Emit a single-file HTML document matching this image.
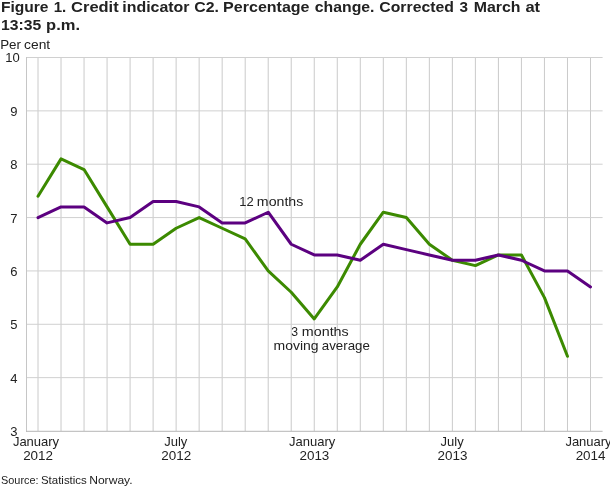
<!DOCTYPE html>
<html><head><meta charset="utf-8"><style>
html,body{margin:0;padding:0;background:#fff;}
body{width:610px;height:488px;overflow:hidden;font-family:"Liberation Sans",sans-serif;}
svg{display:block;will-change:transform;opacity:0.999;}
text{font-family:"Liberation Sans",sans-serif;fill:#222;}
.t{font-weight:bold;font-size:15.5px;fill:#222;}
.s{font-size:13px;}
.src{font-size:11px;}
</style></head><body>
<svg width="610" height="488" viewBox="0 0 610 488">
<rect width="610" height="488" fill="#fff"/>
<text class="t" x="0.96" y="11.5" textLength="47.57" lengthAdjust="spacingAndGlyphs">Figure</text><text class="t" x="53.65" y="11.5" textLength="12.59" lengthAdjust="spacingAndGlyphs">1.</text><text class="t" x="71.12" y="11.5" textLength="47.58" lengthAdjust="spacingAndGlyphs">Credit</text><text class="t" x="122.29" y="11.5" textLength="67.25" lengthAdjust="spacingAndGlyphs">indicator</text><text class="t" x="194.35" y="11.5" textLength="24.64" lengthAdjust="spacingAndGlyphs">C2.</text><text class="t" x="223.13" y="11.5" textLength="86.42" lengthAdjust="spacingAndGlyphs">Percentage</text><text class="t" x="314.78" y="11.5" textLength="59.70" lengthAdjust="spacingAndGlyphs">change.</text><text class="t" x="379.35" y="11.5" textLength="74.49" lengthAdjust="spacingAndGlyphs">Corrected</text><text class="t" x="459.55" y="11.5" textLength="8.50" lengthAdjust="spacingAndGlyphs">3</text><text class="t" x="473.74" y="11.5" textLength="46.75" lengthAdjust="spacingAndGlyphs">March</text><text class="t" x="525.42" y="11.5" textLength="14.69" lengthAdjust="spacingAndGlyphs">at</text>
<text class="t" x="1.01" y="29.5" textLength="40.23" lengthAdjust="spacingAndGlyphs">13:35</text><text class="t" x="46.11" y="29.5" textLength="33.92" lengthAdjust="spacingAndGlyphs">p.m.</text>
<text class="s" x="0.20" y="48.7" textLength="20.82" lengthAdjust="spacingAndGlyphs">Per</text><text class="s" x="24.11" y="48.7" textLength="26.09" lengthAdjust="spacingAndGlyphs">cent</text>
<g stroke="#cacaca" stroke-width="1" fill="none"><line x1="38.01" x2="38.01" y1="57.5" y2="431.0"/><line x1="61.03" x2="61.03" y1="57.5" y2="431.0"/><line x1="84.05" x2="84.05" y1="57.5" y2="431.0"/><line x1="107.07" x2="107.07" y1="57.5" y2="431.0"/><line x1="130.09" x2="130.09" y1="57.5" y2="431.0"/><line x1="153.11" x2="153.11" y1="57.5" y2="431.0"/><line x1="176.13" x2="176.13" y1="57.5" y2="431.0"/><line x1="199.15" x2="199.15" y1="57.5" y2="431.0"/><line x1="222.17" x2="222.17" y1="57.5" y2="431.0"/><line x1="245.19" x2="245.19" y1="57.5" y2="431.0"/><line x1="268.21" x2="268.21" y1="57.5" y2="431.0"/><line x1="291.23" x2="291.23" y1="57.5" y2="431.0"/><line x1="314.25" x2="314.25" y1="57.5" y2="431.0"/><line x1="337.27" x2="337.27" y1="57.5" y2="431.0"/><line x1="360.29" x2="360.29" y1="57.5" y2="431.0"/><line x1="383.31" x2="383.31" y1="57.5" y2="431.0"/><line x1="406.33" x2="406.33" y1="57.5" y2="431.0"/><line x1="429.35" x2="429.35" y1="57.5" y2="431.0"/><line x1="452.37" x2="452.37" y1="57.5" y2="431.0"/><line x1="475.39" x2="475.39" y1="57.5" y2="431.0"/><line x1="498.41" x2="498.41" y1="57.5" y2="431.0"/><line x1="521.43" x2="521.43" y1="57.5" y2="431.0"/><line x1="544.45" x2="544.45" y1="57.5" y2="431.0"/><line x1="567.47" x2="567.47" y1="57.5" y2="431.0"/><line x1="590.49" x2="590.49" y1="57.5" y2="431.0"/></g>
<g stroke="#d0d0d0" stroke-width="1" fill="none"><line x1="26.0" x2="602.6" y1="377.64" y2="377.64"/><line x1="26.0" x2="602.6" y1="324.29" y2="324.29"/><line x1="26.0" x2="602.6" y1="270.93" y2="270.93"/><line x1="26.0" x2="602.6" y1="217.57" y2="217.57"/><line x1="26.0" x2="602.6" y1="164.21" y2="164.21"/><line x1="26.0" x2="602.6" y1="110.86" y2="110.86"/><line x1="26.0" x2="602.6" y1="57.50" y2="57.50"/></g>
<g stroke="#c6c6c6" stroke-width="1" fill="none"><line x1="26.50" x2="26.50" y1="57.0" y2="431.7"/><line x1="26.0" x2="602.6" y1="431.30" y2="431.30" stroke="#b6b6b6"/></g>
<g class="s"><text x="13.8" y="436.0" text-anchor="middle">3</text><text x="13.8" y="382.6" text-anchor="middle">4</text><text x="13.8" y="329.3" text-anchor="middle">5</text><text x="13.8" y="275.9" text-anchor="middle">6</text><text x="13.8" y="222.6" text-anchor="middle">7</text><text x="13.8" y="169.2" text-anchor="middle">8</text><text x="13.8" y="115.9" text-anchor="middle">9</text><text x="12.4" y="62.0" text-anchor="middle">10</text></g>
<g class="s"><text x="36.0" y="445.5" text-anchor="middle">January</text><text x="38.1" y="459.8" text-anchor="middle" textLength="29.9" lengthAdjust="spacingAndGlyphs">2012</text><text x="175.8" y="445.5" text-anchor="middle">July</text><text x="176.2" y="459.8" text-anchor="middle" textLength="29.9" lengthAdjust="spacingAndGlyphs">2012</text><text x="312.2" y="445.5" text-anchor="middle">January</text><text x="314.4" y="459.8" text-anchor="middle" textLength="29.9" lengthAdjust="spacingAndGlyphs">2013</text><text x="452.1" y="445.5" text-anchor="middle">July</text><text x="452.5" y="459.8" text-anchor="middle" textLength="29.9" lengthAdjust="spacingAndGlyphs">2013</text><text x="588.5" y="445.5" text-anchor="middle">January</text><text x="590.6" y="459.8" text-anchor="middle" textLength="29.9" lengthAdjust="spacingAndGlyphs">2014</text></g>
<polyline points="38.01,196.23 61.03,158.88 84.05,169.55 107.07,206.90 130.09,244.25 153.11,244.25 176.13,228.24 199.15,217.57 222.17,228.24 245.19,238.91 268.21,270.93 291.23,292.27 314.25,318.95 337.27,286.94 360.29,244.25 383.31,212.24 406.33,217.57 429.35,244.25 452.37,260.26 475.39,265.59 498.41,254.92 521.43,254.92 544.45,297.61 567.47,356.30" fill="none" stroke="#3c8a00" stroke-width="3" stroke-linejoin="round" stroke-linecap="round"/>
<polyline points="38.01,217.57 61.03,206.90 84.05,206.90 107.07,222.91 130.09,217.57 153.11,201.56 176.13,201.56 199.15,206.90 222.17,222.91 245.19,222.91 268.21,212.24 291.23,244.25 314.25,254.92 337.27,254.92 360.29,260.26 383.31,244.25 406.33,249.59 429.35,254.92 452.37,260.26 475.39,260.26 498.41,254.92 521.43,260.26 544.45,270.93 567.47,270.93 590.49,286.94" fill="none" stroke="#5c0080" stroke-width="3" stroke-linejoin="round" stroke-linecap="round"/>
<text class="s" x="239.21" y="205.7" textLength="14.44" lengthAdjust="spacingAndGlyphs">12</text><text class="s" x="256.86" y="205.7" textLength="46.45" lengthAdjust="spacingAndGlyphs">months</text>
<text class="s" x="291.36" y="335.5" textLength="6.80" lengthAdjust="spacingAndGlyphs">3</text><text class="s" x="301.84" y="335.5" textLength="46.89" lengthAdjust="spacingAndGlyphs">months</text>
<text class="s" x="273.57" y="349.5" textLength="45.03" lengthAdjust="spacingAndGlyphs">moving</text><text class="s" x="321.84" y="349.5" textLength="48.06" lengthAdjust="spacingAndGlyphs">average</text>
<text class="src" x="1.00" y="483.5" textLength="37.59" lengthAdjust="spacingAndGlyphs">Source:</text><text class="src" x="40.98" y="483.5" textLength="45.83" lengthAdjust="spacingAndGlyphs">Statistics</text><text class="src" x="89.17" y="483.5" textLength="43.48" lengthAdjust="spacingAndGlyphs">Norway.</text>
</svg>
</body></html>
